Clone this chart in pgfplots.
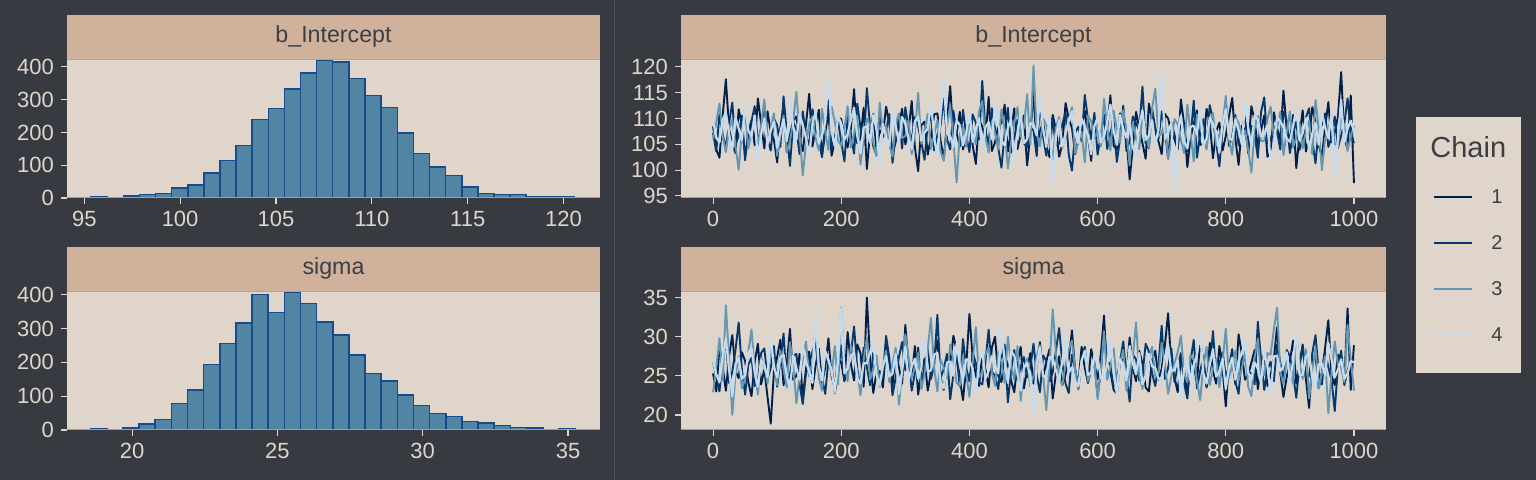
\documentclass[border=0pt]{standalone}
\usepackage{pgfplots}
\pgfplotsset{compat=1.18}
\usepackage{pgfplotstable}
\usepackage{fontspec}
\setmainfont{Liberation Sans}

\definecolor{bg}{HTML}{373A40}
\definecolor{panel}{HTML}{E0D5CA}
\definecolor{strip}{HTML}{D0B19B}
\definecolor{tickc}{HTML}{E0D5CA}
\definecolor{stripline}{HTML}{B5A394}
\definecolor{axline}{HTML}{A39E99}
\definecolor{sepc}{HTML}{4F535A}
\definecolor{txt}{HTML}{3C3F44}
\definecolor{barfill}{HTML}{5284A4}
\definecolor{baredge}{HTML}{174C8C}
\definecolor{cA}{HTML}{011F4B}
\definecolor{cB}{HTML}{03396C}
\definecolor{cC}{HTML}{6497B1}
\definecolor{cD}{HTML}{C6DBEE}

% ---- trace data: b_Intercept, one value every 5 iterations ----
\pgfplotstableread[row sep=\\, header=false]{
108.5\\104.0\\102.4\\110.5\\117.6\\107.9\\105.1\\103.3\\111.8\\108.6\\103.0\\106.2\\109.7\\104.8\\113.9\\109.0\\104.2\\111.4\\107.3\\105.9\\
101.5\\108.2\\112.6\\103.5\\106.8\\109.6\\110.4\\106.0\\103.7\\108.9\\114.8\\104.6\\108.0\\111.7\\102.9\\107.1\\111.2\\102.8\\105.6\\110.2\\
109.9\\106.5\\104.4\\108.0\\115.7\\105.2\\106.1\\112.1\\100.2\\107.4\\110.9\\103.9\\107.7\\106.8\\112.3\\109.1\\103.3\\105.5\\108.8\\111.9\\
105.0\\107.6\\113.4\\104.3\\99.8\\108.7\\109.4\\103.0\\106.5\\110.8\\111.0\\105.7\\102.1\\109.4\\116.3\\106.4\\107.1\\111.3\\104.0\\107.0\\
110.2\\104.9\\101.2\\109.8\\108.4\\106.1\\114.2\\103.7\\105.4\\108.5\\109.1\\112.7\\103.6\\107.3\\112.0\\104.1\\106.9\\110.6\\100.9\\106.9\\
115.1\\104.4\\107.5\\109.3\\104.7\\102.5\\110.7\\107.8\\102.6\\105.0\\113.0\\109.9\\108.2\\103.1\\105.9\\108.4\\111.5\\106.6\\101.8\\110.1\\
109.6\\105.3\\106.3\\108.3\\114.5\\104.7\\103.9\\111.0\\108.6\\106.7\\98.2\\104.5\\111.3\\108.1\\105.2\\102.2\\112.9\\109.7\\107.0\\105.6\\
103.1\\110.9\\110.0\\107.2\\106.0\\104.0\\113.7\\108.8\\100.6\\106.3\\108.9\\111.6\\104.9\\105.1\\111.9\\109.2\\102.3\\107.5\\109.2\\103.8\\
106.6\\110.4\\114.0\\106.0\\101.0\\108.6\\107.8\\104.2\\112.4\\109.5\\104.5\\107.7\\110.6\\102.6\\103.4\\111.2\\108.1\\105.8\\115.4\\108.0\\
105.7\\110.7\\100.4\\106.8\\111.6\\103.6\\106.2\\112.2\\109.3\\104.8\\102.7\\108.2\\113.2\\105.4\\107.4\\110.3\\119.0\\106.1\\104.1\\114.5\\97.5\\
}\biA
\pgfplotstableread[row sep=\\, header=false]{
107.2\\103.6\\110.8\\106.9\\104.3\\109.1\\113.1\\104.9\\106.7\\110.6\\101.9\\107.8\\109.5\\112.4\\105.3\\108.1\\112.7\\106.2\\103.8\\110.0\\
108.7\\104.5\\114.3\\107.4\\100.8\\109.3\\107.9\\103.1\\111.4\\106.6\\104.8\\111.8\\109.0\\105.7\\102.5\\108.8\\113.6\\104.0\\106.4\\109.5\\
105.5\\101.7\\110.3\\107.1\\103.2\\112.9\\108.3\\105.0\\115.9\\108.4\\104.6\\102.9\\111.1\\106.4\\107.6\\110.9\\101.4\\107.0\\109.8\\104.2\\
112.2\\108.0\\105.8\\110.3\\108.5\\105.4\\102.0\\109.0\\110.5\\103.8\\106.8\\108.7\\113.8\\106.0\\104.0\\111.5\\107.2\\104.6\\111.7\\106.7\\
103.5\\110.8\\109.2\\105.9\\117.3\\107.6\\105.0\\112.0\\108.0\\104.3\\100.5\\107.2\\112.1\\103.4\\106.3\\109.7\\110.1\\105.2\\104.4\\108.3\\
107.7\\102.7\\113.3\\106.5\\102.8\\110.1\\109.6\\104.8\\105.1\\108.9\\111.2\\103.0\\99.9\\107.3\\108.4\\105.6\\114.6\\109.8\\106.0\\111.1\\
103.0\\106.8\\110.8\\104.1\\107.3\\109.4\\101.6\\106.1\\112.5\\103.7\\105.6\\110.4\\109.1\\107.7\\116.2\\105.3\\104.2\\111.9\\108.2\\106.0\\
111.4\\107.9\\102.2\\109.2\\106.9\\104.4\\110.0\\108.6\\103.6\\106.3\\113.5\\102.4\\107.0\\109.9\\105.4\\112.6\\109.7\\105.5\\100.7\\108.1\\
112.8\\104.7\\106.5\\110.7\\104.8\\107.5\\110.9\\103.2\\108.6\\106.9\\102.4\\111.2\\114.1\\105.1\\105.9\\108.5\\107.5\\104.0\\111.3\\109.6\\
103.3\\107.0\\109.4\\103.9\\106.1\\110.2\\112.0\\105.8\\101.3\\108.0\\108.8\\111.0\\104.5\\106.4\\110.4\\104.3\\106.7\\109.1\\113.9\\107.4\\105.2\\
}\biB
\pgfplotstableread[row sep=\\, header=false]{
106.0\\109.2\\112.9\\106.5\\103.5\\108.0\\109.8\\104.7\\100.1\\107.6\\111.5\\104.2\\107.4\\110.1\\104.9\\108.7\\113.7\\105.6\\108.1\\111.0\\
102.8\\106.4\\110.6\\103.4\\105.6\\109.5\\115.2\\106.9\\99.0\\105.2\\108.9\\110.4\\106.2\\103.8\\111.9\\107.5\\103.9\\112.3\\109.3\\105.8\\
104.7\\108.1\\112.4\\104.4\\107.0\\110.6\\101.1\\106.0\\110.0\\108.8\\105.3\\102.7\\113.1\\107.2\\108.6\\104.9\\102.6\\109.0\\111.0\\106.2\\
106.6\\109.7\\103.1\\107.3\\115.0\\105.1\\107.8\\110.9\\104.1\\106.8\\109.7\\103.6\\101.8\\108.5\\112.6\\105.9\\97.6\\107.0\\108.3\\104.5\\
110.7\\107.7\\105.0\\111.4\\113.4\\106.3\\103.4\\109.4\\107.2\\104.0\\111.8\\107.9\\100.3\\105.4\\109.0\\112.2\\106.4\\108.3\\114.7\\105.0\\
120.3\\107.1\\104.6\\110.0\\108.7\\105.7\\102.0\\108.2\\110.3\\104.3\\106.8\\109.8\\112.2\\103.2\\105.5\\107.4\\101.5\\110.5\\109.5\\106.1\\
107.6\\104.6\\113.8\\108.4\\103.8\\111.5\\108.0\\105.3\\111.6\\107.8\\100.9\\109.3\\106.1\\104.1\\110.8\\107.0\\104.3\\112.0\\115.8\\106.6\\
107.1\\109.6\\102.3\\105.5\\109.9\\108.9\\105.8\\103.3\\112.7\\107.2\\101.7\\110.8\\108.4\\106.0\\104.0\\109.1\\111.1\\104.8\\106.9\\108.6\\
114.4\\105.9\\103.0\\110.2\\109.2\\106.7\\107.7\\103.9\\99.5\\108.1\\110.5\\105.6\\105.7\\109.9\\112.3\\106.4\\108.2\\111.3\\102.9\\107.4\\
111.4\\104.4\\106.3\\109.2\\104.2\\107.5\\109.6\\103.1\\113.6\\108.0\\100.0\\106.2\\107.9\\110.7\\105.1\\104.6\\110.1\\108.8\\103.7\\106.5\\108.6\\
}\biC
\pgfplotstableread[row sep=\\, header=false]{
109.5\\106.3\\105.4\\109.8\\111.2\\107.0\\103.9\\110.2\\108.1\\105.8\\112.8\\107.7\\106.5\\110.6\\101.3\\106.9\\110.0\\104.9\\107.6\\109.4\\
104.3\\107.3\\109.9\\105.6\\113.5\\108.4\\105.9\\110.9\\108.7\\106.2\\102.7\\108.9\\111.3\\105.1\\106.8\\109.2\\118.4\\107.5\\104.6\\110.4\\
109.1\\105.9\\107.0\\109.7\\112.1\\106.6\\103.2\\108.2\\108.5\\105.3\\110.7\\107.9\\100.8\\109.0\\106.3\\104.7\\111.7\\108.6\\105.2\\110.3\\
108.9\\106.1\\104.1\\109.5\\110.4\\105.7\\107.3\\108.0\\113.2\\106.4\\102.4\\110.8\\117.7\\107.1\\106.6\\104.5\\109.6\\108.7\\104.8\\107.2\\
111.0\\105.5\\107.9\\110.1\\103.6\\108.3\\109.3\\106.0\\112.5\\108.8\\105.7\\104.8\\108.2\\109.9\\101.6\\107.4\\110.9\\105.2\\106.0\\109.1\\
108.8\\106.7\\113.9\\108.1\\104.5\\110.5\\97.2\\106.5\\109.7\\104.6\\107.1\\109.6\\111.4\\107.0\\105.3\\110.0\\108.4\\106.8\\103.1\\108.5\\
110.2\\105.4\\106.4\\109.3\\112.7\\107.6\\104.9\\110.7\\108.0\\106.3\\109.4\\104.4\\102.9\\108.6\\111.6\\105.9\\106.7\\109.7\\105.1\\107.8\\
118.5\\106.0\\107.4\\109.1\\95.8\\107.3\\110.6\\105.6\\104.2\\108.4\\108.6\\106.9\\112.3\\104.7\\106.1\\110.2\\109.0\\107.5\\103.4\\108.9\\
111.8\\106.2\\105.8\\109.8\\107.7\\105.0\\113.1\\108.2\\104.7\\110.6\\109.8\\106.6\\106.9\\108.7\\101.9\\105.3\\110.3\\109.4\\108.3\\106.1\\
105.5\\108.5\\112.0\\105.7\\107.2\\110.1\\103.7\\107.1\\109.2\\104.9\\111.1\\108.3\\106.2\\110.9\\98.1\\106.4\\113.6\\105.4\\108.0\\109.6\\107.5\\
}\biD
% ---- trace data: sigma ----
\pgfplotstableread[row sep=\\, header=false]{
25.3\\23.0\\28.6\\26.1\\23.1\\27.5\\30.2\\25.6\\24.7\\28.0\\26.9\\24.2\\22.4\\26.8\\29.1\\23.9\\25.8\\22.3\\18.9\\25.5\\
27.4\\29.6\\23.8\\26.4\\31.0\\24.5\\25.0\\27.8\\22.2\\25.9\\28.1\\23.3\\26.3\\28.5\\24.1\\26.0\\29.8\\24.9\\23.4\\27.2\\
26.7\\24.3\\30.6\\26.5\\24.4\\29.0\\27.9\\23.6\\35.0\\27.0\\22.8\\25.4\\25.6\\23.5\\28.9\\26.6\\23.7\\28.1\\26.1\\24.0\\
31.5\\26.3\\24.9\\28.8\\22.6\\25.7\\27.2\\23.1\\25.4\\27.4\\29.5\\24.7\\23.2\\26.9\\26.6\\30.1\\28.3\\24.6\\21.9\\26.2\\
32.9\\27.3\\25.1\\23.7\\27.7\\25.8\\23.5\\28.6\\30.0\\25.0\\24.2\\27.6\\26.4\\24.4\\22.9\\26.7\\28.7\\23.4\\25.7\\27.9\\
24.0\\26.1\\29.3\\24.8\\26.8\\28.4\\22.1\\25.3\\27.5\\23.8\\25.2\\27.1\\30.8\\25.6\\23.9\\28.7\\26.0\\24.1\\28.4\\26.5\\
24.6\\27.7\\32.7\\25.2\\25.5\\23.2\\22.7\\26.8\\27.1\\24.9\\29.9\\26.0\\24.3\\28.2\\26.5\\23.5\\23.0\\27.0\\28.2\\24.5\\
25.9\\28.9\\33.0\\26.3\\24.8\\22.9\\27.3\\25.7\\22.5\\27.5\\26.2\\24.2\\29.4\\26.9\\23.6\\29.2\\25.6\\24.0\\28.8\\25.9\\
21.1\\26.6\\27.0\\23.9\\30.3\\27.8\\24.5\\25.1\\26.7\\28.3\\23.3\\26.0\\28.0\\23.7\\25.1\\27.2\\31.2\\25.4\\22.3\\24.8\\
26.9\\29.5\\24.0\\26.2\\29.0\\24.6\\20.9\\27.1\\27.6\\23.4\\25.4\\28.6\\32.1\\25.0\\23.8\\27.7\\26.3\\24.3\\33.6\\23.2\\28.9\\
}\sgA
\pgfplotstableread[row sep=\\, header=false]{
26.8\\24.9\\23.0\\27.1\\29.6\\24.1\\25.5\\28.3\\31.8\\25.8\\22.6\\26.4\\27.3\\23.7\\24.4\\27.9\\28.5\\24.6\\26.0\\28.8\\
23.6\\26.9\\30.4\\24.0\\25.2\\27.5\\27.8\\23.9\\21.4\\25.3\\26.5\\28.1\\29.2\\25.6\\24.7\\22.7\\27.0\\26.2\\22.8\\25.0\\
28.9\\24.4\\25.3\\27.7\\31.3\\25.9\\23.4\\28.6\\26.1\\23.8\\28.0\\26.7\\24.1\\25.1\\30.1\\27.3\\22.5\\24.8\\27.4\\29.3\\
25.7\\27.0\\23.1\\25.4\\28.6\\23.5\\26.4\\28.4\\24.6\\26.3\\32.8\\24.7\\25.9\\27.8\\22.0\\25.2\\27.6\\23.6\\29.7\\26.0\\
24.3\\28.0\\26.6\\24.2\\23.9\\26.8\\30.9\\25.5\\25.0\\23.3\\27.2\\29.0\\21.6\\25.7\\28.3\\24.5\\26.2\\27.4\\24.8\\26.1\\
29.1\\25.1\\22.9\\27.6\\26.9\\24.3\\25.4\\28.2\\31.1\\26.5\\24.0\\22.8\\27.7\\25.9\\23.3\\27.2\\28.7\\24.1\\25.8\\26.6\\
22.4\\25.6\\30.5\\27.0\\26.3\\23.6\\24.5\\26.8\\29.4\\25.0\\21.7\\27.7\\27.1\\24.4\\25.1\\29.1\\28.1\\25.3\\23.7\\26.4\\
31.4\\24.6\\26.0\\28.5\\24.2\\26.2\\27.9\\24.0\\22.1\\26.9\\29.6\\23.4\\25.6\\27.3\\23.5\\25.7\\30.7\\24.9\\26.6\\28.0\\
24.9\\26.1\\28.4\\24.2\\22.7\\27.6\\27.0\\25.5\\25.3\\23.9\\31.9\\27.1\\23.2\\25.8\\26.8\\24.3\\29.0\\26.7\\24.4\\28.3\\
27.5\\25.2\\22.2\\26.5\\28.8\\24.7\\25.0\\27.9\\30.2\\25.4\\23.9\\28.1\\26.1\\24.5\\20.5\\26.3\\28.2\\23.8\\25.7\\26.9\\27.2\\
}\sgB
\pgfplotstableread[row sep=\\, header=false]{
22.9\\26.0\\29.8\\24.4\\34.0\\27.2\\20.0\\25.1\\27.5\\23.4\\24.6\\28.0\\30.9\\25.7\\22.6\\27.3\\26.2\\24.0\\28.4\\26.6\\
23.8\\28.2\\25.9\\23.5\\29.3\\26.3\\21.5\\25.0\\27.0\\29.4\\24.9\\26.8\\31.6\\24.7\\23.1\\27.9\\26.7\\25.3\\28.8\\23.9\\
33.7\\26.5\\24.3\\28.9\\27.4\\25.6\\22.5\\27.0\\29.9\\24.5\\25.8\\27.6\\23.6\\26.1\\28.2\\24.2\\26.5\\28.6\\21.3\\25.5\\
30.3\\27.4\\24.8\\26.0\\27.9\\23.3\\25.2\\28.4\\32.4\\25.9\\23.0\\27.1\\26.0\\24.6\\29.0\\26.9\\24.1\\23.7\\27.6\\25.2\\
22.3\\26.7\\31.2\\24.8\\25.5\\27.7\\28.6\\25.4\\23.7\\28.1\\26.8\\24.1\\30.0\\26.4\\24.5\\28.8\\21.8\\25.8\\27.2\\23.6\\
25.0\\27.5\\28.9\\25.0\\20.6\\26.2\\33.5\\27.8\\24.7\\23.8\\26.4\\28.3\\29.5\\25.7\\23.4\\27.0\\27.8\\24.3\\25.6\\26.9\\
22.0\\25.6\\30.7\\24.5\\26.1\\28.5\\24.0\\26.7\\28.3\\23.1\\25.3\\27.4\\31.8\\25.1\\23.3\\26.0\\27.3\\28.7\\24.9\\25.4\\
29.2\\26.6\\22.7\\24.9\\26.6\\28.0\\30.1\\25.3\\24.2\\27.6\\27.1\\24.4\\21.9\\26.3\\28.7\\23.8\\25.9\\27.2\\23.5\\26.8\\
31.0\\24.7\\26.3\\28.2\\24.4\\25.9\\28.1\\23.6\\22.4\\27.3\\29.7\\25.2\\25.1\\27.9\\27.7\\30.9\\33.7\\25.5\\23.9\\27.0\\
26.5\\24.0\\30.4\\26.6\\24.6\\28.4\\22.1\\25.8\\28.5\\23.4\\25.4\\27.5\\20.2\\25.3\\29.4\\26.4\\26.0\\24.2\\31.5\\27.1\\23.1\\
}\sgC
\pgfplotstableread[row sep=\\, header=false]{
26.9\\25.2\\24.2\\27.4\\29.7\\25.8\\22.4\\26.5\\27.3\\24.6\\25.1\\27.9\\28.5\\25.4\\23.6\\27.0\\26.4\\24.8\\30.2\\26.1\\
24.8\\27.3\\27.7\\25.0\\23.2\\27.6\\26.0\\24.5\\28.9\\26.8\\25.5\\24.1\\33.0\\26.3\\24.4\\28.2\\27.1\\25.6\\22.9\\26.9\\
33.6\\25.3\\25.9\\27.5\\28.0\\24.7\\24.0\\26.6\\26.6\\28.0\\29.3\\25.1\\23.8\\26.2\\27.5\\24.9\\25.3\\27.8\\22.7\\25.7\\
28.7\\24.4\\26.2\\27.2\\24.6\\26.0\\30.6\\25.5\\25.7\\27.7\\27.9\\24.3\\23.4\\26.7\\26.8\\25.0\\29.1\\26.4\\24.5\\27.1\\
27.0\\25.9\\22.8\\26.6\\28.3\\24.6\\25.6\\27.5\\26.3\\25.3\\31.1\\26.8\\24.1\\28.1\\27.6\\25.2\\23.1\\26.0\\26.7\\24.8\\
20.5\\26.5\\28.6\\24.9\\25.0\\27.4\\27.2\\25.7\\24.3\\27.0\\29.5\\25.4\\26.1\\24.2\\23.7\\26.9\\28.2\\25.1\\25.4\\27.6\\
27.4\\24.7\\24.9\\26.3\\30.0\\25.5\\22.6\\27.1\\26.5\\24.4\\28.8\\26.6\\25.2\\27.9\\23.9\\25.0\\27.8\\26.2\\26.0\\24.6\\
24.7\\27.3\\29.0\\25.6\\25.8\\27.0\\22.2\\25.9\\27.0\\24.3\\26.4\\27.7\\30.5\\25.3\\24.0\\26.4\\28.4\\24.9\\25.5\\27.2\\
23.3\\26.1\\27.3\\24.5\\26.9\\27.8\\29.6\\25.4\\24.5\\26.7\\25.9\\24.0\\28.1\\26.3\\22.5\\27.5\\27.5\\25.6\\26.2\\28.0\\
24.4\\26.8\\30.8\\25.1\\25.1\\27.4\\27.9\\24.7\\23.5\\26.5\\26.6\\25.0\\29.2\\27.1\\24.8\\25.8\\27.1\\24.6\\25.3\\26.9\\26.7\\
}\sgD

\pgfplotsset{
  panel/.style={
    scale only axis, anchor=south west,
    axis background/.style={fill=panel},
    axis line style={draw=none},
    tick align=outside, xtick pos=bottom, ytick pos=left,
    major tick length=3pt,
    tick style={color=tickc, line width=0.55pt},
    ticklabel style={font=\fontsize{11}{13}\selectfont, text=tickc},
    /pgf/number format/assume math mode=true,
    /pgf/number format/1000 sep={},
  },
  histbar/.style={ybar interval, fill=barfill, draw=baredge, line width=0.75pt},
  trace/.style={line width=0.95pt, line join=round},
}

\begin{document}
\begin{tikzpicture}
\useasboundingbox (0,0) rectangle (768pt,240pt);
\fill[bg] (0,0) rectangle (768pt,240pt);
\draw[sepc, line width=0.5pt] (307pt,0) -- (307pt,240pt);

% ---------- histogram b_Intercept ----------
\begin{axis}[panel, name=h1, at={(33.5pt,141pt)}, width=266.5pt, height=69pt,
  xmin=94.1, xmax=121.9, ymin=0, ymax=421,
  xtick={95,100,105,110,115,120}, ytick={0,100,200,300,400}]
\addplot[histbar] coordinates {
(95.36,3) (96.20,2) (97.04,6) (97.88,10) (98.72,13) (99.56,30) (100.40,40) (101.24,76) (102.08,114) (102.92,160)
(103.76,240) (104.60,273) (105.44,332) (106.28,381) (107.12,421) (107.96,415) (108.81,365) (109.65,312) (110.49,276) (111.33,199)
(112.17,135) (113.01,95) (113.85,68) (114.69,34) (115.53,14) (116.37,11) (117.21,11) (118.05,4) (118.89,5) (119.73,3)
(120.57,3)};
\end{axis}

% ---------- histogram sigma ----------
\begin{axis}[panel, name=h2, at={(33.5pt,25pt)}, width=266.5pt, height=69pt,
  xmin=17.76, xmax=36.1, ymin=0, ymax=408,
  xtick={20,25,30,35}, ytick={0,100,200,300,400}]
\addplot[histbar] coordinates {
(18.57,4) (19.13,2) (19.68,6) (20.24,18) (20.79,31) (21.35,78) (21.90,118) (22.46,193) (23.02,256) (23.57,317)
(24.13,400) (24.68,348) (25.24,406) (25.79,374) (26.35,319) (26.91,281) (27.46,221) (28.02,167) (28.57,145) (29.13,104)
(29.68,72) (30.24,49) (30.80,40) (31.35,25) (31.91,21) (32.46,13) (33.02,7) (33.57,6) (34.13,2) (34.69,3)
(35.24,3)};
\end{axis}

% ---------- trace b_Intercept ----------
\begin{axis}[panel, name=t1, at={(340.5pt,141pt)}, width=352.5pt, height=69pt,
  xmin=-50, xmax=1050, ymin=94.6, ymax=121.35,
  xtick={0,200,400,600,800,1000}, ytick={95,100,105,110,115,120}]
\addplot[trace, cA] table[x expr=\coordindex*5, y index=0] {\biA};
\addplot[trace, cB] table[x expr=\coordindex*5, y index=0] {\biB};
\addplot[trace, cC] table[x expr=\coordindex*5, y index=0] {\biC};
\addplot[trace, cD, line width=1.1pt] table[x expr=\coordindex*5, y index=0] {\biD};
\end{axis}

% ---------- trace sigma ----------
\begin{axis}[panel, name=t2, at={(340.5pt,25pt)}, width=352.5pt, height=69pt,
  xmin=-50, xmax=1050, ymin=18.08, ymax=35.7,
  xtick={0,200,400,600,800,1000}, ytick={20,25,30,35}]
\addplot[trace, cA] table[x expr=\coordindex*5, y index=0] {\sgA};
\addplot[trace, cB] table[x expr=\coordindex*5, y index=0] {\sgB};
\addplot[trace, cC] table[x expr=\coordindex*5, y index=0] {\sgC};
\addplot[trace, cD, line width=1.1pt] table[x expr=\coordindex*5, y index=0] {\sgD};
\end{axis}

% ---------- strips and bottom lines ----------
\foreach \ax/\lab in {h1/b\_Intercept, h2/sigma, t1/b\_Intercept, t2/sigma}{
  \fill[strip] (\ax.north west) rectangle ([yshift=22.5pt]\ax.north east);
  \draw[stripline, line width=0.5pt] (\ax.north west) -- (\ax.north east);
  \draw[axline, line width=0.5pt] (\ax.south west) -- (\ax.south east);
  \node[text=txt, font=\fontsize{11.6}{13}\selectfont, anchor=center] at ([yshift=11.5pt]\ax.north) {\lab};
}

% ---------- legend ----------
\fill[panel] (708pt,53.5pt) rectangle (760.5pt,181.5pt);
\node[anchor=west, text=txt, font=\fontsize{14.5}{17}\selectfont, inner sep=0pt] at (715pt,166.5pt) {Chain};
\draw[cA, line width=0.7pt] (717pt,141.5pt) -- (736pt,141.5pt);
\draw[cB, line width=0.7pt] (717pt,118.5pt) -- (736pt,118.5pt);
\draw[cC, line width=0.7pt] (717pt,95.5pt) -- (736pt,95.5pt);
\draw[cD, line width=0.7pt] (717pt,72.5pt) -- (736pt,72.5pt);
\node[text=txt, font=\fontsize{10}{12}\selectfont] at (748.5pt,141.5pt) {1};
\node[text=txt, font=\fontsize{10}{12}\selectfont] at (748.5pt,118.5pt) {2};
\node[text=txt, font=\fontsize{10}{12}\selectfont] at (748.5pt,95.5pt) {3};
\node[text=txt, font=\fontsize{10}{12}\selectfont] at (748.5pt,72.5pt) {4};
\end{tikzpicture}
\end{document}
